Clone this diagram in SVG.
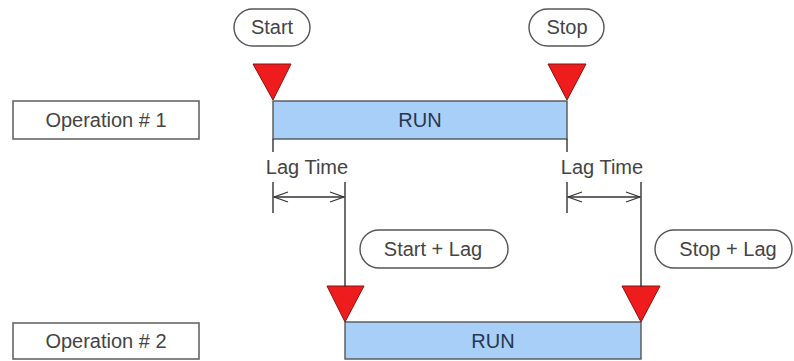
<svg xmlns="http://www.w3.org/2000/svg" width="794" height="361" viewBox="0 0 794 361">
  <defs>
    <style>
      .lbl { font-family: "Liberation Sans", Arial, sans-serif; font-size: 20px; fill: #444; text-anchor: middle; dominant-baseline: central; }
      .run { fill: #2a3550; }
      .box { fill: #fff; stroke: #666; stroke-width: 1.6; }
      .pill { fill: #fff; stroke: #555; stroke-width: 1.4; }
      .bar { fill: #a7cff7; stroke: #555; stroke-width: 1.4; }
      .tri { fill: #ee1c1c; stroke: #8a1010; stroke-width: 1; stroke-linejoin: round; }
      .ln { stroke: #333; stroke-width: 1.4; fill: none; }
    </style>
    <marker id="chev" viewBox="0 0 16 12" refX="15" refY="6" markerWidth="16" markerHeight="12" markerUnits="userSpaceOnUse" orient="auto-start-reverse">
      <path d="M1,1 L15,6 L1,11" fill="none" stroke="#333" stroke-width="1.3"/>
    </marker>
  </defs>

  <rect width="794" height="361" fill="#fff"/>

  <!-- operation labels -->
  <g id="op1">
    <rect class="box" x="13" y="101" width="186" height="38"/>
    <text class="lbl" x="106" y="120">Operation # 1</text>
  </g>
  <g id="op2">
    <rect class="box" x="13" y="323" width="186" height="36"/>
    <text class="lbl" x="106" y="341">Operation # 2</text>
  </g>

  <!-- run bars -->
  <g id="run1">
    <rect class="bar" x="273" y="101" width="294" height="38"/>
    <text class="lbl run" x="420" y="120">RUN</text>
  </g>
  <g id="run2">
    <rect class="bar" x="345" y="322" width="296" height="37"/>
    <text class="lbl run" x="493" y="341">RUN</text>
  </g>

  <!-- event callouts -->
  <g id="start">
    <rect class="pill" x="234" y="9" width="76" height="37" rx="18.5"/>
    <text class="lbl" x="272" y="27">Start</text>
  </g>
  <g id="stop">
    <rect class="pill" x="529" y="9" width="75" height="37" rx="18.5"/>
    <text class="lbl" x="567" y="27">Stop</text>
  </g>
  <g id="startLag">
    <rect class="pill" x="360" y="230" width="148" height="38" rx="19"/>
    <text class="lbl" x="433" y="249">Start + Lag</text>
  </g>
  <g id="stopLag">
    <rect class="pill" x="655" y="230" width="137" height="38" rx="19"/>
    <text class="lbl" x="728" y="249">Stop + Lag</text>
  </g>

  <!-- markers on the time axis -->
  <g id="markers">
    <polygon class="tri" points="253,64 291,64 273,100"/>
    <polygon class="tri" points="548,64 586,64 567,100"/>
    <polygon class="tri" points="327,286 364,286 345,322"/>
    <polygon class="tri" points="622,286 660,286 641,322"/>
  </g>

  <!-- lag time labels -->
  <g id="lag1">
    <text class="lbl" x="307" y="167">Lag Time</text>
  </g>
  <g id="lag2">
    <text class="lbl" x="602" y="167">Lag Time</text>
  </g>

  <!-- connectors and dimension lines -->
  <g id="connectors">
    <line class="ln" x1="273" y1="139" x2="273" y2="152"/>
    <line class="ln" x1="273" y1="182" x2="273" y2="213"/>
    <line class="ln" x1="345" y1="182" x2="345" y2="287"/>
    <line class="ln" x1="274" y1="197" x2="344" y2="197" marker-start="url(#chev)" marker-end="url(#chev)"/>

    <line class="ln" x1="567" y1="139" x2="567" y2="152"/>
    <line class="ln" x1="567" y1="182" x2="567" y2="213"/>
    <line class="ln" x1="641" y1="182" x2="641" y2="287"/>
    <line class="ln" x1="568" y1="197" x2="640" y2="197" marker-start="url(#chev)" marker-end="url(#chev)"/>
  </g>
</svg>
